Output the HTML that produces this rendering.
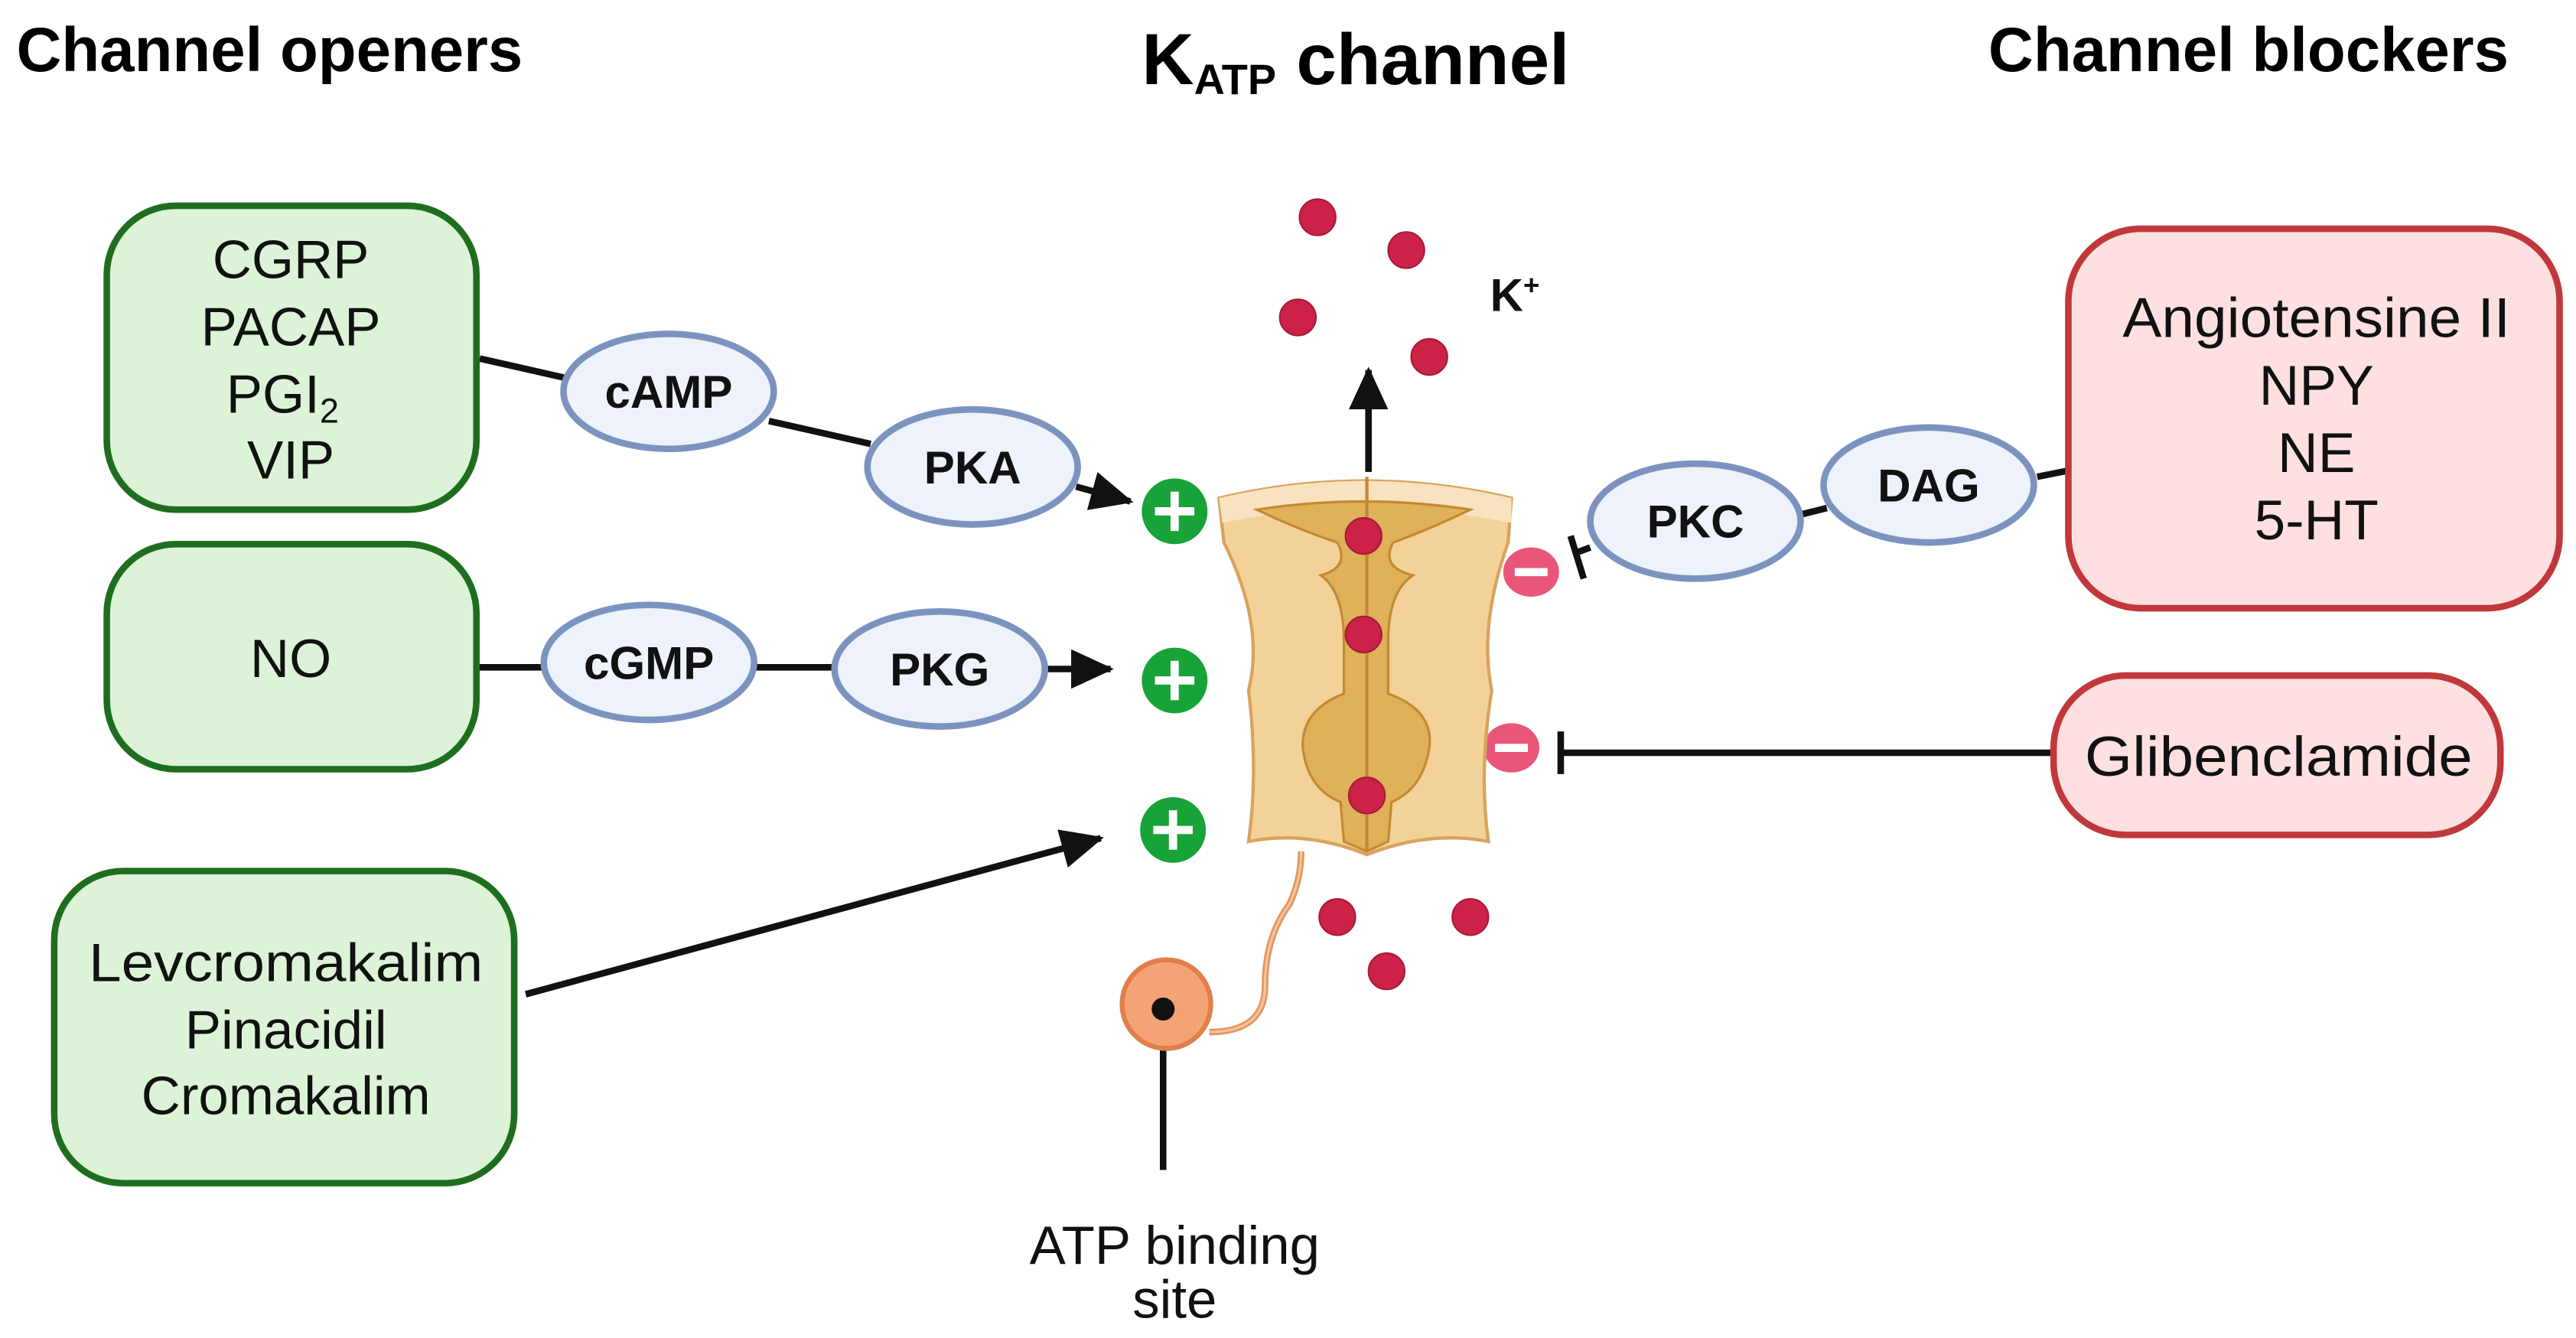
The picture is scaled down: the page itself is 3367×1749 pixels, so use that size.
<!DOCTYPE html>
<html><head><meta charset="utf-8"><style>
html,body{margin:0;padding:0;background:#fff;}
svg{display:block;}
text{font-family:"Liberation Sans",sans-serif;}
</style></head><body>
<svg width="3367" height="1749" viewBox="0 0 1568 814" xmlns="http://www.w3.org/2000/svg">
<defs>
<marker id="ar2" markerWidth="26" markerHeight="24" refX="24" refY="12" orient="auto" markerUnits="userSpaceOnUse">
<path d="M0,0 L26,12 L0,24 z" fill="#111"/></marker>
</defs>
<!-- titles -->
<text x="10" y="43" font-size="38" font-weight="bold" fill="#000">Channel openers</text>
<text x="695" y="51" font-size="44" font-weight="bold" fill="#000">K<tspan font-size="26" dy="6">ATP</tspan><tspan dy="-6"> channel</tspan></text>
<text x="1527" y="43" font-size="38" font-weight="bold" fill="#000" text-anchor="end">Channel blockers</text>

<!-- lines -->
<g stroke="#111" stroke-width="4" fill="none">
<line x1="292" y1="218" x2="345" y2="230"/>
<line x1="468" y1="256" x2="530" y2="270"/>
<line x1="655" y1="296" x2="688" y2="305" marker-end="url(#ar2)"/>
<line x1="292" y1="406" x2="332" y2="406"/>
<line x1="458" y1="406" x2="510" y2="406"/>
<line x1="636" y1="407" x2="676" y2="407" marker-end="url(#ar2)"/>
<line x1="320" y1="605" x2="670" y2="510" marker-end="url(#ar2)"/>
<line x1="1240" y1="290" x2="1260" y2="286"/>
<line x1="1096" y1="313" x2="1112" y2="309"/>
<line x1="968" y1="333" x2="960" y2="336"/>
<line x1="956" y1="326" x2="964" y2="352"/>
<line x1="1250" y1="458" x2="950" y2="458"/>
<line x1="950" y1="445" x2="950" y2="471"/>
<line x1="708" y1="614" x2="708" y2="712"/>
<line x1="833" y1="287" x2="833" y2="225" marker-end="url(#ar2)"/>
</g>

<!-- green boxes -->
<g fill="#dcf3d8" stroke="#1f6e1f" stroke-width="4">
<rect x="65" y="125" width="225" height="185" rx="42"/>
<rect x="65" y="331" width="225" height="137" rx="42"/>
<rect x="33" y="530" width="280" height="190" rx="42"/>
</g>
<g font-size="33" text-anchor="middle" fill="#111">
<text x="177" y="169">CGRP</text>
<text x="177" y="210">PACAP</text>
<text x="172" y="251">PGI<tspan font-size="21" dy="6">2</tspan></text>
<text x="177" y="291">VIP</text>
<text x="177" y="412">NO</text>
<text x="174" y="597" textLength="240" lengthAdjust="spacingAndGlyphs">Levcromakalim</text>
<text x="174" y="638">Pinacidil</text>
<text x="174" y="678">Cromakalim</text>
</g>

<!-- red boxes -->
<g fill="#fde0df" stroke="#c0383b" stroke-width="4">
<rect x="1259" y="139" width="299" height="231" rx="44"/>
<rect x="1250" y="411" width="272" height="97" rx="44"/>
</g>
<g font-size="34" text-anchor="middle" fill="#111">
<text x="1410" y="205" textLength="236" lengthAdjust="spacingAndGlyphs">Angiotensine II</text>
<text x="1410" y="246">NPY</text>
<text x="1410" y="287">NE</text>
<text x="1410" y="328">5-HT</text>
<text x="1387" y="472" textLength="236" lengthAdjust="spacingAndGlyphs">Glibenclamide</text>
</g>

<!-- ellipses -->
<g fill="#eef2fa" stroke="#7d93bf" stroke-width="4">
<ellipse cx="407" cy="238" rx="64" ry="35"/>
<ellipse cx="592" cy="284" rx="64" ry="35"/>
<ellipse cx="395" cy="403" rx="64" ry="35"/>
<ellipse cx="572" cy="407" rx="64" ry="35"/>
<ellipse cx="1032" cy="317" rx="64" ry="35"/>
<ellipse cx="1174" cy="295" rx="64" ry="35"/>
</g>
<g font-size="28" font-weight="bold" text-anchor="middle" fill="#111">
<text x="407" y="248">cAMP</text>
<text x="592" y="294">PKA</text>
<text x="395" y="413">cGMP</text>
<text x="572" y="417">PKG</text>
<text x="1032" y="327">PKC</text>
<text x="1174" y="305">DAG</text>
</g>

<!-- plus -->
<g>
<circle cx="715" cy="311" r="20" fill="#17a338"/>
<circle cx="715" cy="414" r="20" fill="#17a338"/>
<circle cx="714" cy="505" r="20" fill="#17a338"/>
<g stroke="#fff" stroke-width="5">
<line x1="703" y1="311" x2="727" y2="311"/><line x1="715" y1="299" x2="715" y2="323"/>
<line x1="703" y1="414" x2="727" y2="414"/><line x1="715" y1="402" x2="715" y2="426"/>
<line x1="702" y1="505" x2="726" y2="505"/><line x1="714" y1="493" x2="714" y2="517"/>
</g>
</g>
<!-- minus -->
<ellipse cx="932" cy="348" rx="17" ry="15" fill="#e9567a"/>
<line x1="922" y1="348" x2="942" y2="348" stroke="#fff" stroke-width="5"/>
<ellipse cx="920" cy="455" rx="17" ry="15" fill="#e9567a"/>
<line x1="910" y1="455" x2="930" y2="455" stroke="#fff" stroke-width="5"/>

<!-- channel -->
<path d="M742,303 Q830,282 920,303 L918,330 Q900,380 908,420 Q900,470 906,512 Q870,505 832,520 Q795,505 760,512 Q766,470 760,420 Q770,380 745,330 Z" fill="#f3d29a" stroke="#d9a35c" stroke-width="2"/>
<path d="M742,303 Q830,282 920,303 L920,318 Q830,300 744,318 Z" fill="#f8e2c0"/>
<path d="M765,310 Q830,300 895,310 Q870,322 848,330 Q840,345 860,350 Q845,360 845,390 L845,422 Q873,432 870,455 Q866,480 847,488 L845,512 L832,518 L818,512 L816,488 Q796,480 793,455 Q792,432 818,422 L818,390 Q818,360 804,350 Q822,345 814,330 Q790,322 765,310 Z" fill="#deb15a" stroke="#c48a30" stroke-width="1.5"/>
<line x1="832" y1="290" x2="832" y2="518" stroke="#c48a30" stroke-width="2"/>
<!-- tail -->
<path d="M736,628 Q770,628 770,600 Q770,570 785,550 Q792,535 792,518" fill="none" stroke="#e4965e" stroke-width="4"/>
<path d="M736,628 Q770,628 770,600 Q770,570 785,550 Q792,535 792,518" fill="none" stroke="#f7c29a" stroke-width="1.5"/>
<circle cx="710" cy="611" r="27" fill="#f4a374" stroke="#e07f4c" stroke-width="3"/>
<circle cx="708" cy="614" r="7" fill="#111"/>

<!-- K+ dots -->
<g fill="#cc2247" stroke="#a81a3a" stroke-width="1">
<circle cx="802" cy="132" r="11"/><circle cx="856" cy="152" r="11"/>
<circle cx="790" cy="193" r="11"/><circle cx="870" cy="217" r="11"/>
<circle cx="830" cy="326" r="11"/><circle cx="830" cy="386" r="11"/>
<circle cx="832" cy="484" r="11"/>
<circle cx="814" cy="558" r="11"/><circle cx="895" cy="558" r="11"/>
<circle cx="844" cy="591" r="11"/>
</g>
<text x="907" y="189" font-size="28" font-weight="bold" fill="#111">K<tspan font-size="17" dy="-10">+</tspan></text>

<text x="715" y="769" font-size="33" text-anchor="middle" fill="#111">ATP binding</text>
<text x="715" y="802" font-size="33" text-anchor="middle" fill="#111">site</text>
</svg>
</body></html>
